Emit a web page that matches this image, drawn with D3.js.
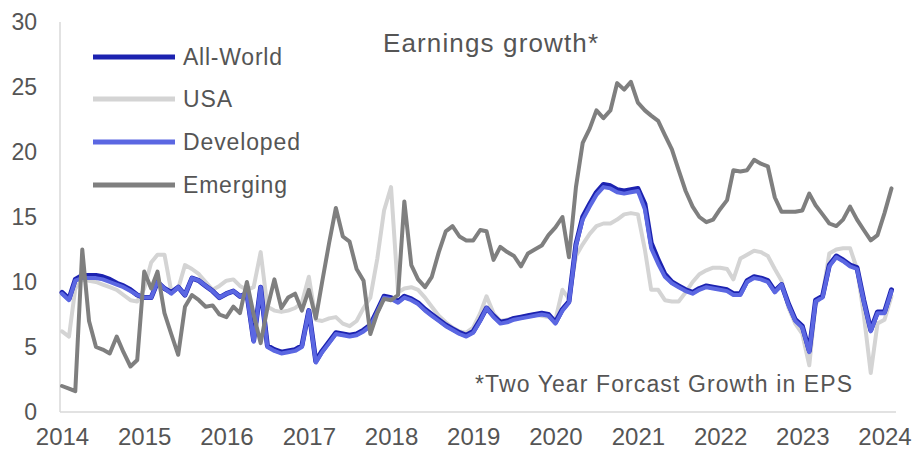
<!DOCTYPE html>
<html><head><meta charset="utf-8">
<script src="https://cdn.jsdelivr.net/npm/d3@7"></script>
<style>
body{margin:0;background:#fff}
svg{display:block}
text{font-family:"Liberation Sans",Arial,sans-serif;fill:#555}
</style>
</head><body>
<svg id="chart" width="914" height="454"></svg>
<script>
// ---- data ----
const yearTicks = [2014,2015,2016,2017,2018,2019,2020,2021,2022,2023,2024];
const yTicks = [0,5,10,15,20,25,30];
const seriesNames = ["All-World","USA","Developed","Emerging"];
const titleText = "Earnings growth*";
const noteText = "*Two Year Forcast Growth in EPS";

// monthly, Jan 2014 .. Feb 2024
const developed = [
 9.1,8.6,10.1,10.3,10.3,10.3,10.2,10.0,9.8,9.6,9.3,9.0,
 8.8,8.8,10.0,9.5,9.1,9.6,9.0,10.3,10.1,9.7,9.3,8.8,
 9.1,9.3,8.9,9.1,5.4,9.6,5.0,4.7,4.5,4.6,4.7,5.0,
 7.8,3.8,4.6,5.3,6.0,5.9,5.8,5.9,6.2,6.6,7.7,8.8,
 8.7,8.4,8.8,8.6,8.3,7.8,7.4,7.0,6.6,6.3,6.0,5.8,
 6.1,7.0,8.0,7.3,6.8,6.9,7.1,7.2,7.3,7.4,7.5,7.4,
 6.8,7.8,8.4,12.8,14.8,15.8,16.7,17.3,17.2,16.9,16.8,16.9,
 17.0,15.6,12.6,11.4,10.4,9.9,9.6,9.3,9.1,9.4,9.6,9.5,
 9.4,9.3,9.0,9.0,10.0,10.3,10.2,10.0,9.2,9.8,8.2,7.0,
 6.5,4.6,8.5,8.8,11.2,11.9,11.6,11.2,11.0,8.5,6.2,7.6,
 7.6,9.3
];
const allWorld = [
 9.2,8.7,10.2,10.5,10.5,10.5,10.4,10.2,9.9,9.7,9.4,9.0,
 8.8,8.8,10.0,9.5,9.2,9.6,9.0,10.3,10.1,9.7,9.3,8.8,
 9.1,9.3,8.9,9.1,5.5,9.6,5.1,4.8,4.6,4.7,4.8,5.1,
 7.8,3.9,4.7,5.4,6.1,6.0,5.9,6.0,6.3,6.7,7.8,8.9,
 8.8,8.5,8.9,8.7,8.4,7.9,7.5,7.1,6.7,6.4,6.1,5.9,
 6.2,7.1,8.0,7.4,6.9,7.0,7.2,7.3,7.4,7.5,7.6,7.5,
 6.9,7.9,8.5,12.9,15.0,16.0,16.9,17.5,17.4,17.1,17.0,17.1,
 17.2,16.0,13.0,11.7,10.6,10.0,9.7,9.4,9.2,9.5,9.7,9.6,
 9.5,9.4,9.1,9.1,10.1,10.4,10.3,10.1,9.3,9.8,8.3,7.1,
 6.6,4.7,8.6,8.9,11.3,12.0,11.7,11.3,11.1,8.6,6.3,7.7,
 7.7,9.4
];
const usa = [
 6.2,5.8,9.5,10.2,10.1,10.0,9.8,9.6,9.4,9.0,8.6,8.5,
 9.5,11.5,12.1,12.1,9.3,9.5,11.3,11.0,10.6,10.0,9.4,9.7,
 10.1,10.2,9.7,9.4,9.6,12.3,8.1,7.8,7.7,7.8,8.0,8.4,
 10.4,7.1,7.0,7.2,7.3,6.8,6.6,7.0,8.0,8.8,11.8,15.5,
 17.3,9.2,9.5,9.6,9.4,8.8,8.1,7.4,6.9,6.5,6.2,6.1,
 6.5,7.6,8.9,7.6,7.0,7.1,7.2,7.3,7.4,7.5,7.4,7.3,
 7.1,9.4,8.7,12.0,12.9,13.7,14.3,14.5,14.5,14.8,15.2,15.3,
 15.2,12.5,9.4,9.4,8.6,8.5,8.5,9.2,10.0,10.6,10.9,11.1,
 11.1,11.0,10.2,11.8,12.1,12.4,12.3,12.0,11.0,10.1,8.0,6.8,
 6.0,3.6,8.3,9.0,12.2,12.5,12.6,12.6,11.0,7.5,3.0,6.8,
 7.1,8.9
];
const emerging = [
 2.0,1.8,1.6,12.5,7.0,5.0,4.8,4.5,5.8,4.6,3.5,4.0,
 10.8,9.5,10.8,7.6,6.0,4.4,8.1,9.0,8.6,8.1,8.2,7.5,
 7.3,8.1,7.6,10.0,7.5,5.3,8.0,10.2,8.0,8.8,9.1,7.8,
 9.4,7.2,10.0,13.0,15.7,13.5,13.1,11.0,10.1,6.0,7.6,8.7,
 8.6,9.0,16.2,11.3,10.2,9.6,10.4,12.3,13.9,14.3,13.5,13.2,
 13.2,14.0,13.9,11.7,12.7,12.3,12.0,11.2,12.2,12.5,12.8,13.6,
 14.2,15.0,11.9,17.3,20.7,21.8,23.2,22.6,23.2,25.3,24.8,25.4,
 23.8,23.2,22.8,22.4,21.3,20.2,18.6,17.0,15.8,15.0,14.6,14.8,
 15.6,16.3,18.6,18.5,18.6,19.4,19.1,18.9,16.5,15.4,15.4,15.4,
 15.5,16.8,15.9,15.2,14.5,14.3,14.8,15.8,14.8,14.0,13.2,13.6,
 15.3,17.2
];

// ---- chart ----
const svg = d3.select("#chart");
const months = d3.timeMonth.range(new Date(2014,0,1), new Date(2024,2,1));

const x = d3.scaleTime()
  .domain([new Date(2014,0,1), new Date(2024,0,1)])
  .range([62, 884.5]);
const y = d3.scaleLinear().domain([0,30]).range([412,22]);

const colors = {"All-World":"#1c22b0","USA":"#d4d4d4","Developed":"#5b67e2","Emerging":"#7f7f7f"};
const widths = {"All-World":5,"USA":4,"Developed":4,"Emerging":4};
const seriesData = {"All-World":allWorld,"USA":usa,"Developed":developed,"Emerging":emerging};

// axis lines
svg.append("line").attr("x1",60).attr("x2",60).attr("y1",y(30)).attr("y2",y(0))
  .attr("stroke","#d9d9d9").attr("stroke-width",1.5);
svg.append("line").attr("x1",60).attr("x2",896).attr("y1",y(0)).attr("y2",y(0))
  .attr("stroke","#d9d9d9").attr("stroke-width",1.5);

// y axis
const yAxis = svg.append("g").attr("transform","translate(60,0)")
  .call(d3.axisLeft(y).tickValues(yTicks).tickSize(0).tickPadding(23));
yAxis.select(".domain").remove();
yAxis.selectAll("text").style("font-size","23px").attr("fill","#555")
  .style("font-family",'"Liberation Sans",Arial,sans-serif');

// x axis
const xAxis = svg.append("g").attr("transform","translate(0,412)")
  .call(d3.axisBottom(x).tickValues(yearTicks.map(v=>new Date(v,0,1))).tickSize(0).tickPadding(16)
    .tickFormat(d3.timeFormat("%Y")));
xAxis.select(".domain").remove();
xAxis.selectAll("text").style("font-size","24px").attr("fill","#555")
  .style("font-family",'"Liberation Sans",Arial,sans-serif');

// lines
const line = d3.line().x((d,i)=>x(months[i])).y(d=>y(d));
["USA","All-World","Developed","Emerging"].forEach(name=>{
  svg.append("path").datum(seriesData[name])
    .attr("d",line).attr("fill","none")
    .attr("stroke",colors[name]).attr("stroke-width",widths[name])
    .attr("stroke-linejoin","round").attr("stroke-linecap","round");
});

// title
svg.append("text").attr("x",383).attr("y",52).attr("textLength",215)
  .style("font-size","26px").text(titleText);

// footnote
svg.append("text").attr("x",475).attr("y",392).attr("textLength",377)
  .style("font-size","23px").text(noteText);

// legend
const legY = [57,99,142,185];
const legLen = {"All-World":99,"USA":49,"Developed":117,"Emerging":104};
seriesNames.forEach((name,i)=>{
  svg.append("line").attr("x1",93).attr("x2",175).attr("y1",legY[i]).attr("y2",legY[i])
    .attr("stroke",colors[name]).attr("stroke-width",5);
  svg.append("text").attr("x",183).attr("y",legY[i]+8).attr("textLength",legLen[name])
    .style("font-size","23px").text(name);
});
</script>
</body></html>
